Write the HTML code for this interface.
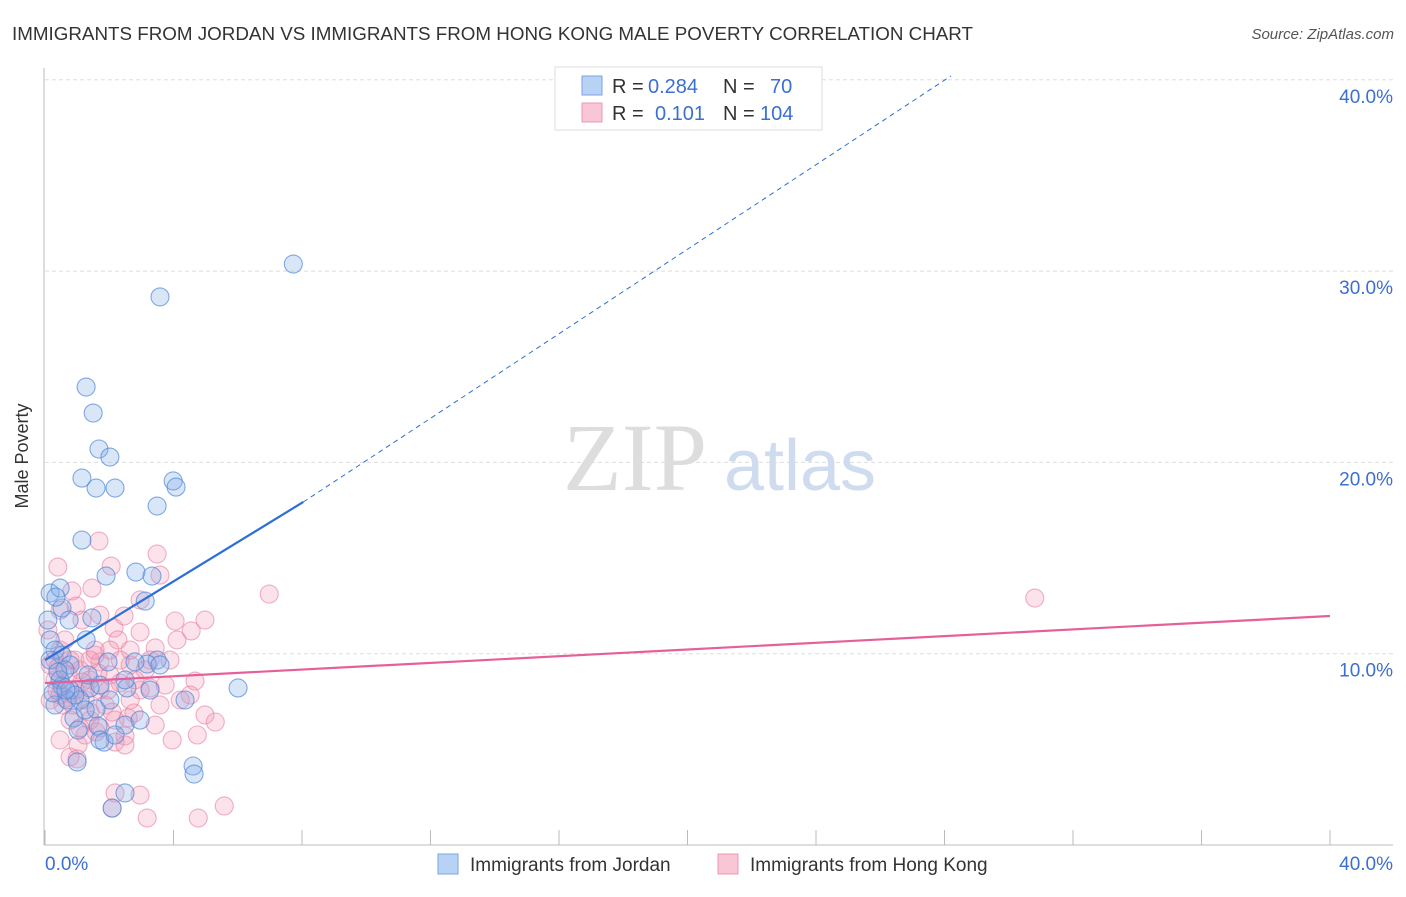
<!DOCTYPE html>
<html><head><meta charset="utf-8"><style>
body{margin:0;background:#fff;font-family:"Liberation Sans",sans-serif}
</style></head><body>
<svg id="c" width="1406" height="892" xmlns="http://www.w3.org/2000/svg">
<text x="12" y="40" font-size="18" fill="#333" textLength="961" lengthAdjust="spacingAndGlyphs">IMMIGRANTS FROM JORDAN VS IMMIGRANTS FROM HONG KONG MALE POVERTY CORRELATION CHART</text>
<text x="1394" y="39" font-size="15" fill="#555" font-style="italic" text-anchor="end">Source: ZipAtlas.com</text>
<g id="grid"></g>
<text x="635" y="490" font-size="96" font-family="Liberation Serif,serif" fill="#ddd" text-anchor="middle">ZIP</text>
<text x="800" y="490" font-size="72" fill="#cfdcf0" text-anchor="middle">atlas</text>
<line x1="44" y1="68" x2="44" y2="845" stroke="#bbb"/>
<line x1="44" y1="845" x2="1393" y2="845" stroke="#bbb"/>
<text x="28" y="456" font-size="18" fill="#333" text-anchor="middle" transform="rotate(-90 28 456)">Male Poverty</text>
<text x="45" y="870" font-size="19" fill="#3b6fd1">0.0%</text>
<text x="1393" y="870" font-size="19" fill="#3b6fd1" text-anchor="end">40.0%</text>
<g id="pts"></g>
<g id="lines"></g>
<g>
<rect x="555" y="67" width="267" height="63" fill="#fff" stroke="#ddd"/>
<rect x="582" y="76" width="20" height="19" fill="#b8d2f5" stroke="#7aa3e0"/>
<rect x="582" y="103" width="20" height="19" fill="#f9c6d5" stroke="#eb98b4"/>
<text x="612" y="93" font-size="20" fill="#333">R = <tspan x="648" fill="#3b6fd1">0.284</tspan><tspan x="723">N = </tspan><tspan x="770" fill="#3b6fd1">70</tspan></text>
<text x="612" y="120" font-size="20" fill="#333">R = <tspan x="655" fill="#3b6fd1">0.101</tspan><tspan x="723">N = </tspan><tspan x="760" fill="#3b6fd1">104</tspan></text>
</g>
<g>
<rect x="438" y="854" width="20" height="20" fill="#b8d2f5" stroke="#7aa3e0"/>
<text x="470" y="871" font-size="19" fill="#333">Immigrants from Jordan</text>
<rect x="718" y="854" width="20" height="20" fill="#f9c6d5" stroke="#eb98b4"/>
<text x="750" y="871" font-size="19" fill="#333">Immigrants from Hong Kong</text>
</g>
</svg>
<script>
const yTicks=[10,20,30,40];
const yTickLabels=["10.0%","20.0%","30.0%","40.0%"];
const xTicks=[0,4,8,12,16,20,24,28,32,36,40];
const jordanX=[7.73,3.58,1.28,1.50,1.68,2.02,1.15,1.59,2.18,3.49,3.99,4.08,1.15,1.90,2.83,3.33,3.12,0.16,0.47,0.53,0.75,1.46,1.28,0.16,0.31,0.53,0.78,0.16,3.49,3.18,2.80,1.96,4.36,6.01,2.55,1.40,1.71,0.47,0.78,0.31,0.69,1.09,1.59,0.90,1.03,1.65,2.49,1.84,1.00,4.61,2.49,2.09,4.64,0.53,0.25,2.49,1.34,0.62,2.02,3.27,2.96,0.40,0.93,3.58,0.09,1.71,1.25,2.18,0.34,0.65];
const jordanY=[30.37,28.65,23.94,22.58,20.70,20.28,19.18,18.66,18.66,17.72,19.03,18.71,15.94,14.06,14.27,14.06,12.75,13.17,13.43,12.39,11.76,11.87,10.72,10.72,10.19,9.93,9.41,9.67,9.67,9.46,9.57,9.57,7.58,8.21,8.21,8.21,8.36,8.63,8.10,7.32,7.58,7.58,7.11,6.64,6.01,6.22,6.27,5.38,4.34,4.13,2.72,1.93,3.71,8.31,7.95,8.63,8.89,9.15,7.58,8.10,6.53,9.04,7.84,9.41,11.76,5.49,7.06,5.75,12.96,8.10];
const hkX=[30.81,6.98,3.49,1.68,2.06,0.40,3.58,1.46,0.84,0.97,2.46,4.98,4.05,2.15,2.96,4.55,4.11,3.43,1.15,2.27,0.47,0.78,1.71,2.65,1.09,2.02,3.12,0.47,1.40,2.34,3.27,4.67,4.52,0.47,0.93,1.25,1.71,2.65,3.58,4.98,5.30,2.59,2.77,0.78,1.40,2.18,1.59,2.49,4.74,1.03,2.18,1.71,0.78,1.00,2.18,2.96,2.09,3.18,4.77,5.58,0.31,0.16,0.62,1.56,2.02,3.27,3.89,0.16,0.56,1.25,1.87,2.96,3.43,2.49,0.37,0.72,1.15,1.65,2.65,0.47,0.09,1.71,2.96,4.21,3.96,1.25,0.47,0.93,0.31,1.40,2.34,1.96,2.80,3.74,0.87,1.40,2.09,0.40,0.65,1.09,1.56];
const hkY=[12.91,13.12,15.21,15.89,14.58,14.53,14.11,13.43,13.28,12.49,11.97,11.76,11.71,11.34,11.13,11.19,10.72,10.30,11.76,10.72,10.19,9.67,9.57,9.41,9.15,8.89,9.15,8.63,8.63,8.47,8.21,8.57,7.84,7.84,8.10,7.58,8.10,7.58,7.32,6.80,6.43,6.64,6.90,6.53,6.53,6.53,5.91,5.70,5.75,5.23,5.38,6.12,4.60,4.50,2.72,2.61,1.93,1.41,1.41,2.04,8.63,9.41,10.72,9.93,10.19,9.67,9.67,7.58,7.32,8.10,7.32,8.10,6.27,5.23,8.10,8.89,8.52,8.99,10.19,12.28,11.24,12.02,12.81,7.58,5.49,5.75,5.49,9.67,9.67,9.67,9.67,8.10,8.63,8.36,7.32,6.95,6.95,9.25,7.68,6.12,10.19];
const jordanSolid=[0,9.67,8.04,17.93];
const jordanDashEnd=[28.2,40.2];
const hkTrend=[8.47,0.0875];
const NS="http://www.w3.org/2000/svg";
const sx=v=>45+v/40*1285;
const sy=v=>845-v/10*191.3;
function mk(t,a,p){const e=document.createElementNS(NS,t);for(const k in a)e.setAttribute(k,a[k]);p.appendChild(e);return e;}
const grid=document.getElementById('grid');
yTicks.forEach((t,i)=>{
 const l=mk('line',{x1:45,x2:1393,y1:sy(t),y2:sy(t),stroke:'#ddd','stroke-dasharray':'4,3'},grid);
 
 
 const tx=mk('text',{x:1393,y:sy(t)+23,'font-size':19,fill:'#3b6fd1','text-anchor':'end'},grid);
 tx.textContent=yTickLabels[i];
 
 
});
xTicks.forEach(t=>{
 const l=mk('line',{x1:sx(t),x2:sx(t),y1:830,y2:845,stroke:'#bbb'},grid);
 
 
});
const pts=document.getElementById('pts');
hkX.forEach((x,i)=>{
 const c=mk('circle',{cx:sx(x),cy:sy(hkY[i]),r:9,fill:'rgba(244,150,178,0.28)',stroke:'rgba(232,125,160,0.6)','stroke-width':1.1},pts);
 
 
});
jordanX.forEach((x,i)=>{
 const c=mk('circle',{cx:sx(x),cy:sy(jordanY[i]),r:9,fill:'rgba(130,172,232,0.3)',stroke:'rgba(80,135,215,0.7)','stroke-width':1.1},pts);
 
 
});
const lines=document.getElementById('lines');
const bl=mk('line',{x1:sx(jordanSolid[0]),y1:sy(jordanSolid[1]),x2:sx(jordanSolid[2]),y2:sy(jordanSolid[3]),stroke:'#2c6fd6','stroke-width':2.2},lines);


const bd=mk('line',{x1:sx(jordanSolid[2]),y1:sy(jordanSolid[3]),x2:sx(jordanDashEnd[0]),y2:sy(jordanDashEnd[1]),stroke:'#2c6fd6','stroke-width':1,'stroke-dasharray':'5,4'},lines);


const pl=mk('line',{x1:sx(0),y1:sy(hkTrend[0]),x2:sx(40),y2:sy(hkTrend[0]+40*hkTrend[1]),stroke:'#e5609a','stroke-width':2.2},lines);


</script>
</body></html>
